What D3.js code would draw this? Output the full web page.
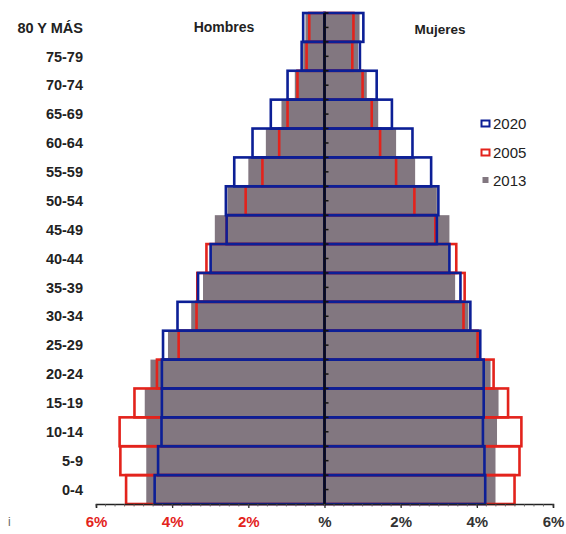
<!DOCTYPE html>
<html>
<head>
<meta charset="utf-8">
<script src="https://cdn.jsdelivr.net/npm/d3@7"></script>
<style>
  body { margin: 0; background: #fff; }
  text { font-family: "Liberation Sans", Arial, sans-serif; }
</style>
</head>
<body>
<svg id="chart" width="566" height="534"></svg>
<script>
// grupos de edad (de arriba abajo)
const ages = ['80 Y MÁS','75-79','70-74','65-69','60-64','55-59','50-54','45-49','40-44','35-39','30-34','25-29','20-24','15-19','10-14','5-9','0-4']

// porcentajes
const men2013   = [0.50,0.56,0.78,1.13,1.54,2.00,2.55,2.88,3.01,3.19,3.50,4.11,4.57,4.72,4.68,4.68,4.68]
const women2013 = [0.92,0.88,1.11,1.41,1.88,2.38,2.95,3.28,3.28,3.43,3.78,4.07,4.36,4.57,4.53,4.49,4.49]
const men2005   = [0.40,0.47,0.71,0.97,1.19,1.63,2.07,2.57,3.10,3.34,3.36,3.83,4.40,4.99,5.38,5.36,5.21]
const women2005 = [0.76,0.73,1.00,1.24,1.46,1.88,2.36,2.91,3.46,3.68,3.65,4.02,4.44,4.82,5.17,5.12,4.99]
const men2020   = [0.56,0.60,0.97,1.41,1.89,2.37,2.59,2.57,2.99,3.32,3.86,4.24,4.27,4.27,4.28,4.37,4.46]
const women2020 = [1.02,0.93,1.37,1.77,2.31,2.80,2.99,2.95,3.28,3.57,3.83,4.09,4.18,4.18,4.16,4.20,4.22]

const tickValues = [-6,-4,-2,0,2,4,6]
const tickLabels = ['6%','4%','2%','%','2%','4%','6%']
const legendYears = ['2020','2005','2013']

// colori
const grayColor = '#827780'
const redColor = '#e3231c'
const blueColor = '#0c1f96'

const svg = d3.select('#chart')

const xScale = d3.scaleLinear().domain([-6, 6]).range([96, 553])
const yScale = d3.scaleBand().domain(ages).range([13, 504]).padding(0)

// barre: sinistra = hombres (negativo), destra = mujeres
function bars(values, sign, cls, fill, stroke, sw) {
  svg.append('g').attr('class', cls)
    .selectAll('rect')
    .data(values.map((v, i) => ({age: ages[i], v: v * sign})))
    .enter()
    .append('rect')
      .attr('x', d => Math.min(xScale(0), xScale(d.v)))
      .attr('y', d => yScale(d.age))
      .attr('width', d => Math.abs(xScale(d.v) - xScale(0)))
      .attr('height', yScale.bandwidth())
      .style('fill', fill)
      .style('stroke', stroke)
      .style('stroke-width', sw)
}

bars(men2013, -1, 'g2013m', grayColor, 'none', 0)
bars(women2013, 1, 'g2013w', grayColor, 'none', 0)
bars(men2005, -1, 'r2005m', 'none', redColor, 2.6)
bars(women2005, 1, 'r2005w', 'none', redColor, 2.6)
bars(men2020, -1, 'b2020m', 'none', blueColor, 2.6)
bars(women2020, 1, 'b2020w', 'none', blueColor, 2.6)

// asse verticale centrale con piccoli tick
svg.append('line')
  .attr('x1', xScale(0)).attr('x2', xScale(0))
  .attr('y1', 13).attr('y2', 504)
  .style('stroke', '#0a0a1a').style('stroke-width', 2.6)

const vTicks = []
ages.forEach(a => { vTicks.push(yScale(a)); vTicks.push(yScale(a) + yScale.bandwidth() / 2) })
svg.append('g').selectAll('line')
  .data(vTicks)
  .enter()
  .append('line')
    .attr('x1', xScale(0)).attr('x2', xScale(0) + 4)
    .attr('y1', d => d).attr('y2', d => d)
    .style('stroke', '#111').style('stroke-width', 1.5)

// asse x in basso
const xAxis = d3.axisBottom(xScale)
  .tickValues(tickValues)
  .tickSize(4)
  .tickFormat((d, i) => tickLabels[i])

const xg = svg.append('g')
  .attr('transform', 'translate(0, 504)')
  .call(xAxis)

xg.select('path.domain').style('stroke', '#222').style('stroke-width', 1.5)
xg.selectAll('.tick line').style('stroke', '#222').style('stroke-width', 1.2)
xg.selectAll('.tick text')
  .attr('y', 12)
  .style('font-size', '15px')
  .style('font-weight', 'bold')
  .style('font-family', '"Liberation Sans", Arial, sans-serif')
  .style('fill', d => d < 0 ? redColor : '#333')

// tick minori
svg.append('g').selectAll('line')
  .data(d3.range(-6, 6.01, 0.25))
  .enter()
  .append('line')
    .attr('x1', d => xScale(d)).attr('x2', d => xScale(d))
    .attr('y1', 504).attr('y2', 506.5)
    .style('stroke', '#555').style('stroke-width', 0.8)

// etichette eta
svg.append('g').selectAll('text')
  .data(ages)
  .enter()
  .append('text')
    .attr('x', 83)
    .attr('y', d => yScale(d) + yScale.bandwidth() / 2)
    .attr('dy', '0.36em')
    .style('text-anchor', 'end')
    .style('font-size', '14.5px')
    .style('font-weight', 'bold')
    .style('fill', '#222')
    .text(d => d)

// titoli
svg.append('text').attr('x', 224).attr('y', 32).style('text-anchor', 'middle')
  .style('font-size', '14px').style('font-weight', 'bold').style('fill', '#222').text('Hombres')
svg.append('text').attr('x', 440).attr('y', 34).style('text-anchor', 'middle')
  .style('font-size', '13.5px').style('font-weight', 'bold').style('fill', '#222').text('Mujeres')

// legenda
svg.append('rect').attr('x', 481.5).attr('y', 120.5).attr('width', 8).attr('height', 6)
  .style('fill', 'none').style('stroke', blueColor).style('stroke-width', 2)
svg.append('rect').attr('x', 481.5).attr('y', 149.5).attr('width', 8).attr('height', 6)
  .style('fill', 'none').style('stroke', redColor).style('stroke-width', 2)
svg.append('rect').attr('x', 482.5).attr('y', 177).attr('width', 6).attr('height', 6)
  .style('fill', grayColor)

svg.append('g').selectAll('text')
  .data(legendYears)
  .enter()
  .append('text')
    .attr('x', 493)
    .attr('y', (d, i) => 124 + i * 28.5)
    .attr('dy', '0.36em')
    .style('font-size', '15px')
    .style('fill', '#222')
    .text(d => d)

// segno isolato in basso a sinistra
svg.append('text').attr('x', 8).attr('y', 526).style('font-size', '12px').style('fill', '#666').text('i')
</script>
</body>
</html>
